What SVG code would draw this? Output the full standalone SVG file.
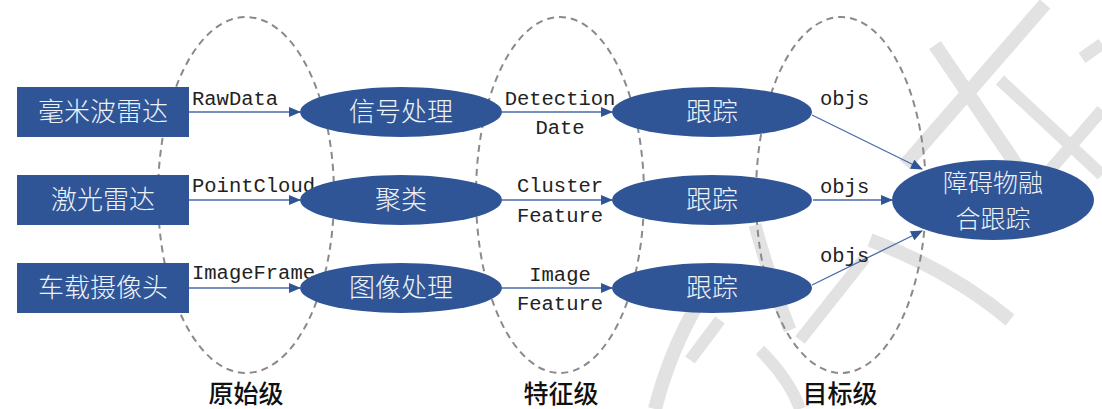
<svg xmlns="http://www.w3.org/2000/svg" width="1102" height="409" viewBox="0 0 1102 409">
<style>
.box{fill:#2f5597;}
.nt{fill:#eef2f8;font-family:"Noto Sans CJK SC","Noto Sans",sans-serif;font-size:26px;font-weight:300;text-anchor:middle;}
.lbl{fill:#222;font-family:"Liberation Mono","DejaVu Sans Mono",monospace;font-size:20.5px;}
.mid{text-anchor:middle;}
.grp{fill:none;stroke:#8a8a8a;stroke-width:2;stroke-dasharray:7 5;}
.edge{stroke:#4a6aa8;stroke-width:1.3;fill:none;marker-end:url(#ah);}
.lvl{fill:#111;font-family:"Noto Sans CJK SC",sans-serif;font-size:25px;font-weight:500;text-anchor:middle;}
.wm{stroke:#e2e2e2;fill:none;stroke-linecap:butt;}
</style>
<defs>
<marker id="ah" viewBox="0 0 12 10" refX="11" refY="5" markerWidth="12" markerHeight="10" markerUnits="userSpaceOnUse" orient="auto">
<path d="M0,0 L12,5 L0,10 Z" fill="#2f5597"/>
</marker>
</defs>
<rect width="1102" height="409" fill="#ffffff"/>
<g id="watermark">
<path class="wm" stroke-width="14" d="M1045,4 L905,165"/>
<path class="wm" stroke-width="14" d="M935,45 L1030,185"/>
<path class="wm" stroke-width="12" d="M1000,80 L1102,175"/>
<path class="wm" stroke-width="12" d="M1082,58 L1102,44"/>
<path class="wm" stroke-width="12" d="M1102,110 L1050,170"/>
<path class="wm" stroke-width="14" d="M870,240 Q950,270 1010,320"/>
<path class="wm" stroke-width="13" d="M755,225 Q770,280 790,330"/>
<path class="wm" stroke-width="12" d="M800,340 L865,258"/>
<path class="wm" stroke-width="14" d="M700,300 Q670,350 655,409"/>
<path class="wm" stroke-width="12" d="M720,320 L690,360"/>
<path class="wm" stroke-width="12" d="M760,350 Q790,380 800,409"/>
</g>
<g id="groups">
<ellipse class="grp" cx="246" cy="195" rx="88" ry="178"/>
<ellipse class="grp" cx="560" cy="195" rx="84" ry="178"/>
<ellipse class="grp" cx="841" cy="195" rx="85" ry="178"/>
</g>
<g id="connectors">
<line class="edge" x1="189" y1="112" x2="300" y2="112"/>
<line class="edge" x1="189" y1="200" x2="300" y2="200"/>
<line class="edge" x1="189" y1="288" x2="300" y2="288"/>
<line class="edge" x1="502" y1="112" x2="612" y2="112"/>
<line class="edge" x1="502" y1="200" x2="612" y2="200"/>
<line class="edge" x1="502" y1="288" x2="612" y2="288"/>
<line class="edge" x1="812" y1="115" x2="922" y2="169"/>
<line class="edge" x1="813" y1="200" x2="892" y2="200"/>
<line class="edge" x1="812" y1="285" x2="922" y2="231"/>
<text class="lbl" x="192" y="105">RawData</text>
<text class="lbl" x="192" y="192">PointCloud</text>
<text class="lbl" x="192" y="279">ImageFrame</text>
<text class="lbl mid" x="560" y="105">Detection</text>
<text class="lbl mid" x="560" y="134">Date</text>
<text class="lbl mid" x="560" y="192">Cluster</text>
<text class="lbl mid" x="560" y="222">Feature</text>
<text class="lbl mid" x="560" y="281">Image</text>
<text class="lbl mid" x="560" y="310">Feature</text>
<text class="lbl" x="820" y="105">objs</text>
<text class="lbl" x="820" y="193">objs</text>
<text class="lbl" x="820" y="262">objs</text>
</g>
<g id="radar"><rect class="box" x="17" y="87" width="172" height="50"/><text class="nt" x="103" y="121">毫米波雷达</text></g>
<g id="lidar"><rect class="box" x="17" y="175" width="172" height="50"/><text class="nt" x="103" y="209">激光雷达</text></g>
<g id="camera"><rect class="box" x="17" y="263" width="172" height="50"/><text class="nt" x="103" y="297">车载摄像头</text></g>
<g id="signal"><ellipse class="box" cx="401" cy="112" rx="101" ry="25"/><text class="nt" x="401" y="121">信号处理</text></g>
<g id="cluster"><ellipse class="box" cx="401" cy="200" rx="101" ry="25"/><text class="nt" x="401" y="209">聚类</text></g>
<g id="image"><ellipse class="box" cx="401" cy="288" rx="101" ry="25"/><text class="nt" x="401" y="297">图像处理</text></g>
<g id="track1"><ellipse class="box" cx="712" cy="112" rx="100" ry="25"/><text class="nt" x="712" y="121">跟踪</text></g>
<g id="track2"><ellipse class="box" cx="712" cy="200" rx="100" ry="25"/><text class="nt" x="712" y="209">跟踪</text></g>
<g id="track3"><ellipse class="box" cx="712" cy="288" rx="100" ry="25"/><text class="nt" x="712" y="297">跟踪</text></g>
<g id="fusion"><ellipse class="box" cx="993" cy="200" rx="101" ry="40"/><text class="nt" x="993" y="192" style="font-size:25px">障碍物融</text><text class="nt" x="993" y="228" style="font-size:25px">合跟踪</text></g>
<g id="levels">
<text class="lvl" x="246" y="403">原始级</text>
<text class="lvl" x="561" y="403">特征级</text>
<text class="lvl" x="840" y="403">目标级</text>
</g>
</svg>
